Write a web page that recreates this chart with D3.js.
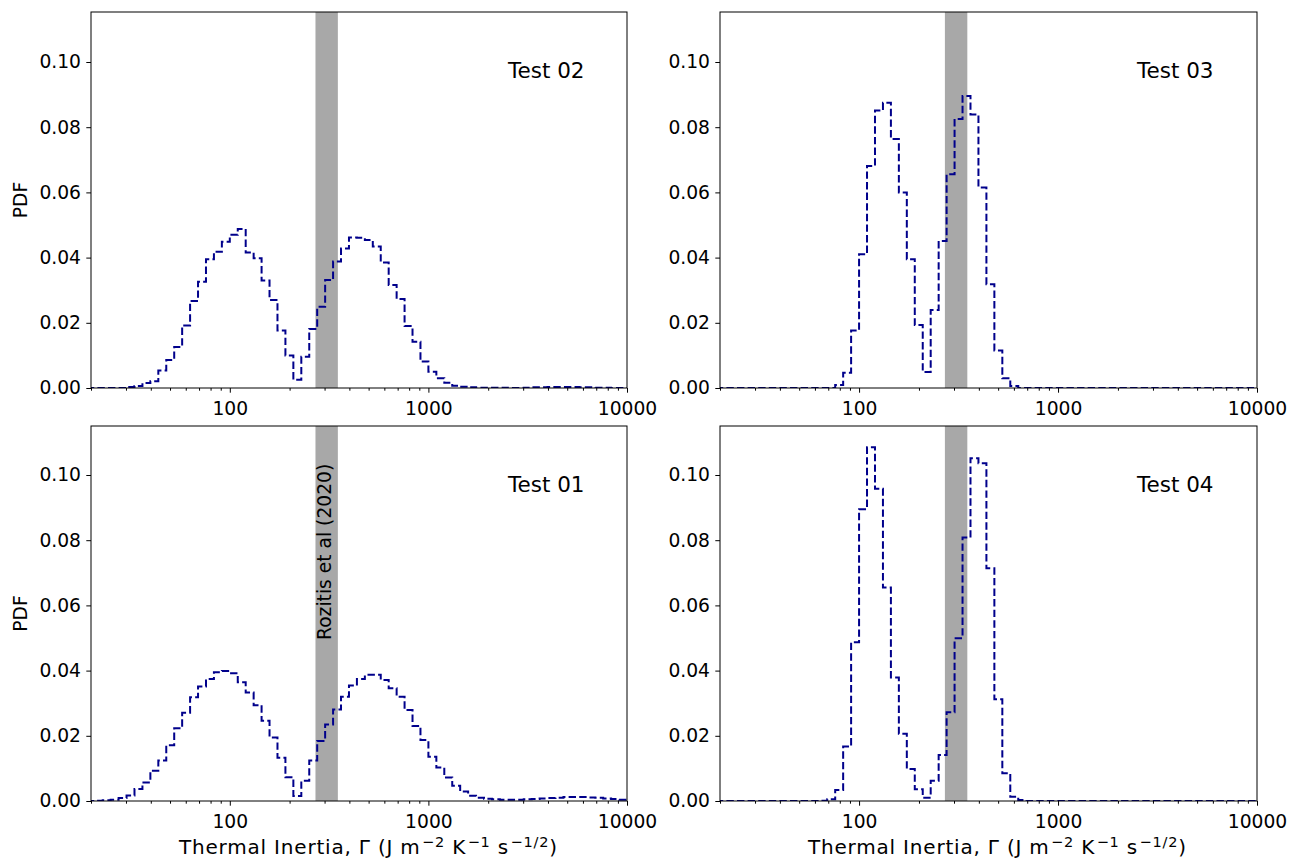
<!DOCTYPE html>
<html>
<head>
<meta charset="utf-8">
<script src="https://cdn.jsdelivr.net/npm/d3@7"></script>
<style>
  body { margin: 0; background: #fff; }
  svg text { font-family: "DejaVu Sans", sans-serif; fill: #000; }
</style>
</head>
<body>
<svg id="chart" width="1298" height="858"></svg>
<script>
// Bins: 25 per decade in log space, last edge at 10000
const binStartExp = 1.28, binStepExp = 0.04, nBins = 68;
const binEdges = d3.range(nBins + 1).map(i => Math.pow(10, binStartExp + binStepExp * i));

// PDF per bin
const test02 = [0,0,0,0,0,
  0.0003,0.0006,0.0015,0.0021,0.0054,
  0.0086,0.0126,0.0192,0.0267,0.0326,
  0.0395,0.0418,0.0449,0.0470,0.0488,
  0.0416,0.0398,0.0330,0.0270,0.0176,
  0.0100,0.0025,0.0096,0.0181,0.0249,
  0.0331,0.0388,0.0428,0.0462,0.0461,
  0.0454,0.0434,0.0385,0.0316,0.0273,
  0.0190,0.0142,0.0081,0.0050,0.0030,
  0.0016,0.0007,0.0004,0.0002,0.0001,
  0.0001,0.0001,0.0001,0,0,
  0.0001,0.0002,0.0002,0.0003,0.0003,
  0.0003,0.0003,0.0002,0.0002,0.0001,
  0.0001,0,0];

const test03 = [0,0,0,0,0,0,0,0,0,0,0,0,0,0,0,
  0.0009,0.0047,0.0176,0.0410,0.0681,
  0.0851,0.0875,0.0764,0.0600,0.0395,
  0.0193,0.0049,0.0239,0.0451,0.0656,
  0.0825,0.0896,0.0839,0.0615,0.0318,
  0.0115,0.0030,0.0006,
  0,0,0,0,0,0,0,0,0,0,0,0,0,0,0,0,0,0,0,0,0,0,0,0,0,0,0,0,0,0];

const test01 = [0,0.0001,0.0002,0.0004,0.0009,
  0.0017,0.0037,0.0057,0.0093,0.0124,
  0.0171,0.0223,0.0271,0.0318,0.0351,
  0.0374,0.0395,0.0399,0.0392,0.0364,
  0.0333,0.0294,0.0246,0.0195,0.0133,
  0.0073,0.0015,0.0062,0.0124,0.0184,
  0.0235,0.0281,0.0320,0.0354,0.0374,
  0.0387,0.0387,0.0371,0.0346,0.0320,
  0.0279,0.0230,0.0187,0.0136,0.0103,
  0.0072,0.0047,0.0029,0.0016,0.0010,
  0.0007,0.0005,0.0004,0.0004,0.0004,
  0.0005,0.0006,0.0008,0.0009,0.0010,
  0.0012,0.0012,0.0012,0.0011,0.0010,
  0.0008,0.0006,0.0004];

const test04 = [0,0,0,0,0,0,0,0,0,0,0,0,0,0.0001,
  0.0005,0.0034,0.0167,0.0487,0.0895,
  0.1085,0.0958,0.0655,0.0379,0.0206,
  0.0098,0.0036,0.0010,0.0062,0.0141,
  0.0272,0.0499,0.0808,0.1051,0.1036,
  0.0714,0.0312,0.0085,0.0013,0.0003,
  0,0,0,0,0,0,0,0,0,0,0,0,0,0,0,0,0,0,0,0,0,0,0,0,0,0,0,0,0];

const panelNames = ['Test 02', 'Test 03', 'Test 01', 'Test 04'];
const panelSeries = [test02, test03, test01, test04];

// Rozitis et al (2020) range
const bandRange = [270, 350];

const xMajor = [100, 1000, 10000];
const xMinor = [20,30,40,50,60,70,80,90,200,300,400,500,600,700,800,900,2000,3000,4000,5000,6000,7000,8000,9000];
const yTicks = [0, 0.02, 0.04, 0.06, 0.08, 0.10];

const LINE_COLOR = '#00008b', BAND_COLOR = '#a8a8a8';

// Layout
const panels = [
  {x: 91, y: 12, w: 536, h: 376, row: 0, col: 0},
  {x: 720, y: 12, w: 537, h: 376, row: 0, col: 1},
  {x: 91, y: 426, w: 536, h: 375, row: 1, col: 0},
  {x: 720, y: 426, w: 537, h: 375, row: 1, col: 1}
];

let svg = d3.select('#chart');

panels.forEach(function(p, idx) {
  let g = svg.append('g').attr('transform', 'translate(' + p.x + ',' + p.y + ')');

  let x = d3.scaleLog().domain([20, 10000]).range([0, p.w]);
  let y = d3.scaleLinear().domain([0, p.h / 3260]).range([p.h, 0]);

  g.append('clipPath').attr('id', 'clip' + idx)
    .append('rect').attr('width', p.w).attr('height', p.h);

  // gray band
  g.append('rect')
    .attr('x', x(bandRange[0]))
    .attr('y', 0)
    .attr('width', x(bandRange[1]) - x(bandRange[0]))
    .attr('height', p.h)
    .attr('fill', BAND_COLOR);

  // step histogram outline
  let vals = panelSeries[idx];
  let pts = [[binEdges[0], 0]];
  vals.forEach(function(v, i) {
    pts.push([binEdges[i], v]);
    pts.push([binEdges[i + 1], v]);
  });
  pts.push([binEdges[nBins], 0]);

  let line = d3.line().x(d => x(d[0])).y(d => y(d[1]));
  g.append('path')
    .attr('clip-path', 'url(#clip' + idx + ')')
    .attr('d', line(pts))
    .attr('fill', 'none')
    .attr('stroke', LINE_COLOR)
    .attr('stroke-width', 2)
    .attr('stroke-dasharray', '7.4,3.2');

  // x axis
  let xAxis = g.append('g').attr('transform', 'translate(0,' + p.h + ')');
  xAxis.call(d3.axisBottom(x).tickValues(xMajor).tickSize(4.7).tickFormat(d3.format('d')));
  let xMin = g.append('g').attr('transform', 'translate(0,' + p.h + ')');
  xMin.call(d3.axisBottom(x).tickValues(xMinor).tickSize(2.7).tickFormat(''));
  xMin.select('.domain').remove();
  xAxis.select('.domain').remove();
  xAxis.selectAll('.tick text')
    .attr('y', 27).attr('dy', 0)
    .style('font-size', '18.7px').style('font-family', '"DejaVu Sans"');

  // y axis
  let yAxis = g.append('g');
  yAxis.call(d3.axisLeft(y).tickValues(yTicks).tickSize(4.7).tickFormat(d3.format('.2f')));
  yAxis.select('.domain').remove();
  yAxis.selectAll('.tick text')
    .attr('x', -10)
    .style('font-size', '18.7px').style('font-family', '"DejaVu Sans"');

  g.selectAll('.tick line').attr('stroke', '#000').attr('stroke-width', 1);

  // frame
  g.append('rect')
    .attr('x', 0).attr('y', 0).attr('width', p.w).attr('height', p.h)
    .attr('fill', 'none').attr('stroke', '#000').attr('stroke-width', 1);

  // panel name
  g.append('text')
    .attr('x', 417).attr('y', 66)
    .style('font-size', '21.5px')
    .text(panelNames[idx]);

  if (p.col === 0) {
    g.append('text')
      .attr('transform', 'translate(' + (27 - p.x) + ',' + (p.h / 2) + ') rotate(-90)')
      .attr('text-anchor', 'middle')
      .style('font-size', '18.7px')
      .text('PDF');
  }

  if (p.row === 1) {
    let lab = g.append('text')
      .attr('x', 88).attr('y', p.h + 53)
      .attr('textLength', 378)
      .attr('lengthAdjust', 'spacing')
      .style('font-size', '20px');
    lab.append('tspan').text('Thermal Inertia, Γ (J m');
    lab.append('tspan').attr('dy', -7.5).attr('dx', 1.5).style('font-size', '14.5px').text('−2');
    lab.append('tspan').attr('dy', 7.5).text(' K');
    lab.append('tspan').attr('dy', -7.5).attr('dx', 1.5).style('font-size', '14.5px').text('−1');
    lab.append('tspan').attr('dy', 7.5).text(' s');
    lab.append('tspan').attr('dy', -7.5).attr('dx', 1.5).style('font-size', '14.5px').text('−1/2');
    lab.append('tspan').attr('dy', 7.5).text(')');
  }

  // band label only in the lower left panel
  if (idx === 2) {
    g.append('text')
      .attr('transform', 'translate(' + (x(bandRange[0]) + 16) + ',' + 214 + ') rotate(-90)')
      .style('font-size', '18.7px')
      .text('Rozitis et al (2020)');
  }
});
</script>
</body>
</html>
